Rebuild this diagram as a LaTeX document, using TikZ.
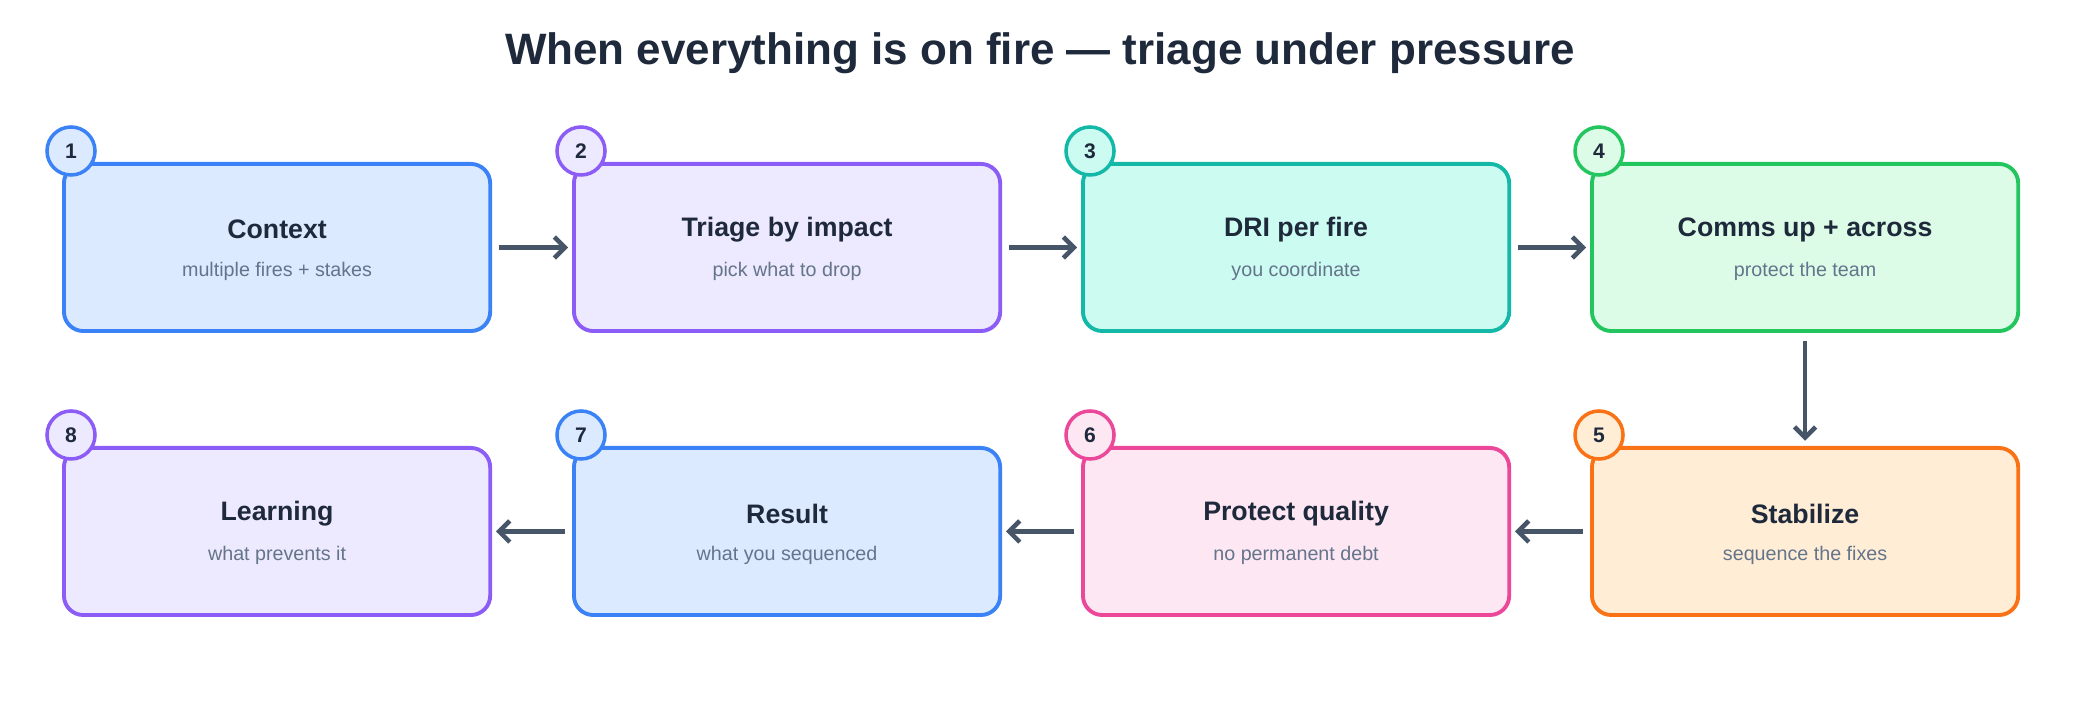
\documentclass[tikz,border=0pt]{standalone}
\usepackage{fontspec}
\setmainfont{Liberation Sans}
\usetikzlibrary{arrows.meta}
\definecolor{bA}{HTML}{3B82F6}\definecolor{bF}{HTML}{DBEAFE}
\definecolor{pA}{HTML}{8B5CF6}\definecolor{pF}{HTML}{EDE9FE}
\definecolor{tA}{HTML}{14B8A6}\definecolor{tF}{HTML}{CCFBF1}
\definecolor{gA}{HTML}{22C55E}\definecolor{gF}{HTML}{DCFCE7}
\definecolor{oA}{HTML}{F97316}\definecolor{oF}{HTML}{FFEDD5}
\definecolor{kA}{HTML}{EC4899}\definecolor{kF}{HTML}{FCE7F3}
\definecolor{arr}{HTML}{475569}\definecolor{ttl}{HTML}{1E293B}\definecolor{sub}{HTML}{64748B}
\begin{document}
\begin{tikzpicture}[x=0.01cm,y=-0.01cm,
  box/.style={draw=#1A,fill=#1F,line width=1.1pt,rounded corners=5.5pt,minimum width=4.26cm,minimum height=1.67cm,anchor=north west},
  num/.style={circle,draw=#1A,fill=#1F,line width=1pt,minimum size=0.48cm,inner sep=0pt,font=\fontsize{6}{7}\selectfont\bfseries,text=ttl},
  ar/.style={draw=arr,line width=1.3pt,-{Straight Barb[length=3pt,width=6pt]}},
  hd/.style={font=\fontsize{7.6}{9}\selectfont\bfseries,text=ttl},
  sb/.style={font=\fontsize{5.6}{7}\selectfont,text=sub}]
\useasboundingbox (0,0) rectangle (2080,704);
\node[font=\fontsize{12.5}{15}\selectfont\bfseries,text=ttl] (title) at (1040,53) {When everything is on fire — triage under pressure};
\foreach \n/\x/\y/\c/\h/\s in {
 1/62/162/b/Context/multiple fires + stakes,
 2/572/162/p/Triage by impact/pick what to drop,
 3/1081/162/t/DRI per fire/you coordinate,
 4/1590/162/g/Comms up + across/protect the team,
 5/1590/446/o/Stabilize/sequence the fixes,
 6/1081/446/k/Protect quality/no permanent debt,
 7/572/446/b/Result/what you sequenced,
 8/62/446/p/Learning/what prevents it}{
 \node[box=\c] (b\n) at (\x,\y) {};
 \node[hd] (h\n) at ([yshift=0.18cm]b\n.center) {\h};
 \node[sb] (s\n) at ([yshift=-0.24cm]b\n.center) {\s};
 \node[num=\c] (n\n) at ([xshift=0.09cm,yshift=0.11cm]b\n.north west) {\n};
}
\draw[ar] ([xshift=1.9pt]b1.east) -- ([xshift=-1.1pt]b2.west);
\draw[ar] ([xshift=1.9pt]b2.east) -- ([xshift=-1.1pt]b3.west);
\draw[ar] ([xshift=1.9pt]b3.east) -- ([xshift=-1.1pt]b4.west);
\draw[ar] ([yshift=-2.3pt]b4.south) -- ([yshift=1.5pt]b5.north);
\draw[ar] ([xshift=-1.9pt]b5.west) -- ([xshift=1.1pt]b6.east);
\draw[ar] ([xshift=-1.9pt]b6.west) -- ([xshift=1.1pt]b7.east);
\draw[ar] ([xshift=-1.9pt]b7.west) -- ([xshift=1.1pt]b8.east);
\end{tikzpicture}
\end{document}
